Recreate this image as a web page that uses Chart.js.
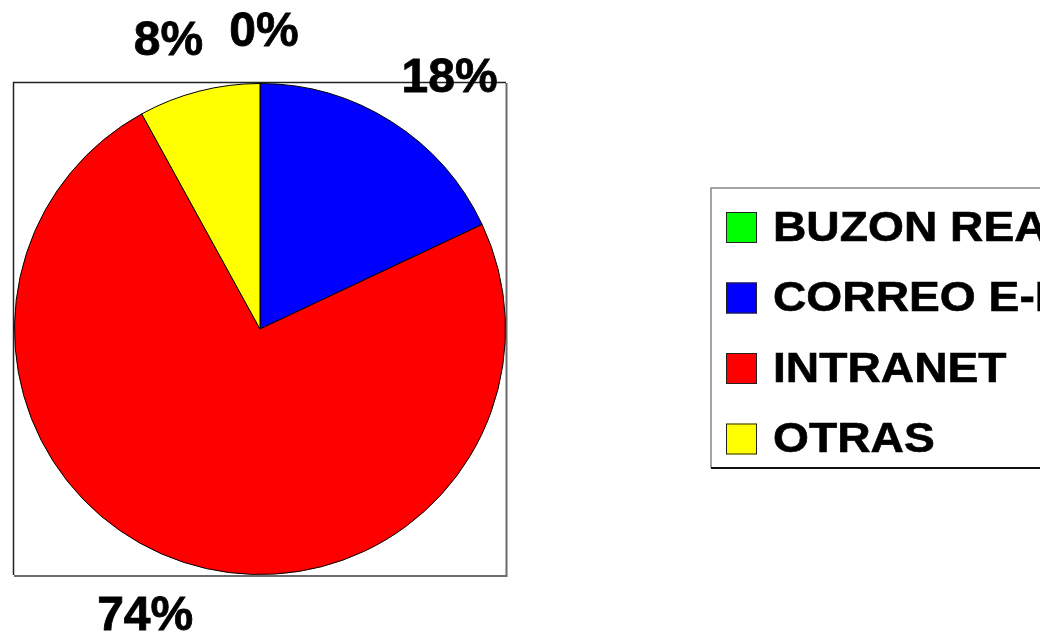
<!DOCTYPE html>
<html>
<head>
<meta charset="utf-8">
<script src="https://cdn.jsdelivr.net/npm/chart.js@4/dist/chart.umd.min.js"></script>
<style>
  html, body { margin: 0; padding: 0; background: #fff; overflow: hidden; }
  canvas { display: block; }
</style>
</head>
<body>
<canvas id="chart" width="1040" height="631"></canvas>
<script>
// values (percent of answers)
const categories = ['BUZON REAL', 'CORREO E-MAIL', 'INTRANET', 'OTRAS'];
const shares = [0, 18, 74, 8];
const shareLabels = ['0%', '18%', '74%', '8%'];

const sliceColors = ['#00ff00', '#0000ff', '#ff0000', '#ffff00'];
const FONT = '"Liberation Sans", Arial, sans-serif';

// white plot frame with a grey shadow on the right and bottom
const framePlugin = {
  id: 'frame',
  beforeDatasetsDraw(chart) {
    const { ctx, chartArea: a } = chart;
    ctx.save();
    ctx.fillStyle = '#fff';
    ctx.fillRect(a.left, a.top, a.width, a.height);
    ctx.strokeStyle = '#6b6b6b';
    ctx.lineWidth = 2;
    ctx.beginPath();
    ctx.moveTo(a.right + 0.5, a.top);
    ctx.lineTo(a.right + 0.5, a.bottom + 1);
    ctx.lineTo(a.left, a.bottom + 1);
    ctx.stroke();
    ctx.strokeStyle = '#222';
    ctx.lineWidth = 1.5;
    ctx.beginPath();
    ctx.moveTo(a.left - 0.5, a.bottom);
    ctx.lineTo(a.left - 0.5, a.top - 0.5);
    ctx.lineTo(a.right, a.top - 0.5);
    ctx.stroke();
    ctx.restore();
  }
};

// percentage labels outside each slice
const outsideLabels = {
  id: 'outsideLabels',
  afterDatasetsDraw(chart) {
    const { ctx } = chart;
    const arcs = chart.getDatasetMeta(0).data;
    ctx.save();
    ctx.font = 'bold 48px ' + FONT;
    ctx.fillStyle = '#000';
    ctx.strokeStyle = '#000';
    ctx.lineWidth = 0.8;
    ctx.textAlign = 'center';
    ctx.textBaseline = 'middle';
    arcs.forEach((arc, i) => {
      const p = arc.getProps(['x', 'y', 'startAngle', 'endAngle', 'outerRadius'], true);
      const mid = (p.startAngle + p.endAngle) / 2;
      const dx = Math.cos(mid), dy = Math.sin(mid);
      const text = shareLabels[i];
      const w = ctx.measureText(text).width;
      const h = 36;
      const d = p.outerRadius + 36;
      const side = Math.abs(dx) < 0.05 ? 0.3 : Math.sign(dx);
      const cx = p.x + dx * d + dx * w / 2 + 13 * side;
      const cy = p.y + dy * d + dy * h / 2;
      ctx.fillText(text, cx, cy + 3);
      ctx.strokeText(text, cx, cy + 3);
    });
    ctx.restore();
  }
};

// legend box on the right, running off the page like the original
const sideLegend = {
  id: 'sideLegend',
  afterDraw(chart) {
    const { ctx, chartArea: a } = chart;
    const left = a.right + 205;
    const top = a.top + 105;
    const bottom = top + 280;
    ctx.save();
    ctx.strokeStyle = '#888';
    ctx.lineWidth = 1.5;
    ctx.beginPath();
    ctx.moveTo(left, bottom);
    ctx.lineTo(left, top);
    ctx.lineTo(chart.width + 5, top);
    ctx.stroke();
    ctx.strokeStyle = '#111';
    ctx.lineWidth = 2;
    ctx.beginPath();
    ctx.moveTo(left, bottom);
    ctx.lineTo(chart.width + 5, bottom);
    ctx.stroke();

    categories.forEach((label, i) => {
      const y = top + 24 + i * 70.5;
      ctx.fillStyle = sliceColors[i];
      ctx.fillRect(left + 15, y, 31, 31);
      ctx.strokeStyle = '#222';
      ctx.lineWidth = 1;
      ctx.strokeRect(left + 15.5, y + 0.5, 30, 30);

      ctx.save();
      ctx.translate(left + 62, y + 17);
      ctx.scale(1.1, 1);
      ctx.font = 'bold 42px ' + FONT;
      ctx.fillStyle = '#000';
      ctx.strokeStyle = '#000';
      ctx.lineWidth = 0.6;
      ctx.textAlign = 'left';
      ctx.textBaseline = 'middle';
      ctx.fillText(label, 0, 0);
      ctx.strokeText(label, 0, 0);
      ctx.restore();
    });
    ctx.restore();
  }
};

new Chart(document.getElementById('chart'), {
  type: 'pie',
  data: {
    labels: categories,
    datasets: [{
      data: shares,
      backgroundColor: sliceColors,
      borderColor: '#000',
      borderWidth: 1
    }]
  },
  options: {
    responsive: false,
    animation: false,
    layout: {
      padding: { left: 14, top: 83, right: 534, bottom: 56 }
    },
    plugins: {
      legend: { display: false },
      tooltip: { enabled: false },
      title: { display: false }
    }
  },
  plugins: [framePlugin, outsideLabels, sideLegend]
});
</script>
</body>
</html>
